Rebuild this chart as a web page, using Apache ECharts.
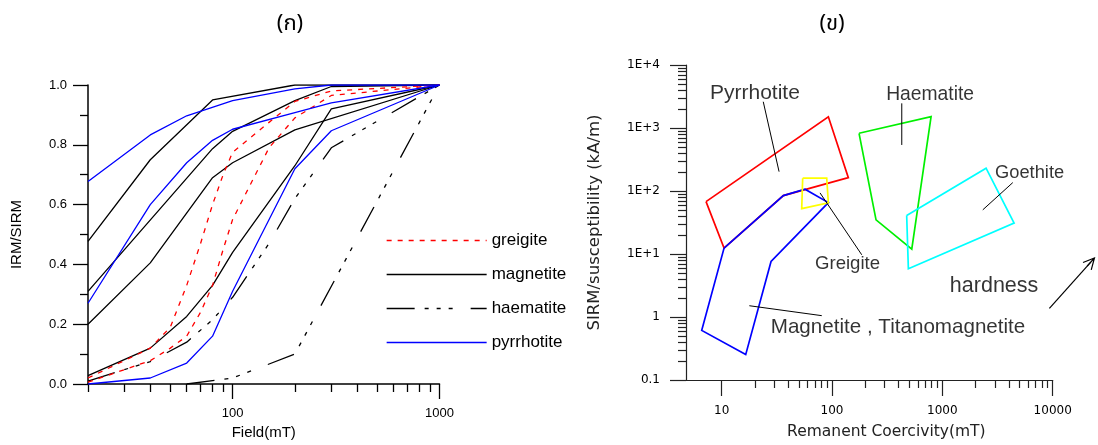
<!DOCTYPE html>
<html>
<head>
<meta charset="utf-8">
<script src="https://cdn.jsdelivr.net/npm/echarts@6/dist/echarts.min.js"></script>
<style>html,body{margin:0;padding:0;background:#fff}#c{width:1098px;height:445px}</style>
</head>
<body>
<div id="c"></div>
<script>
// ---------------- Panel (ก): IRM acquisition curves ----------------
const greigite1Field = [20, 40, 50, 60, 70, 80, 90, 100, 150, 200, 300, 1000];
const greigite1IRM   = [0.02, 0.12, 0.19, 0.33, 0.47, 0.60, 0.70, 0.775, 0.875, 0.945, 0.98, 1.0];
const greigite2Field = [20, 40, 50, 60, 70, 80, 90, 100, 150, 200, 300, 1000];
const greigite2IRM   = [0.006, 0.078, 0.12, 0.16, 0.24, 0.33, 0.45, 0.55, 0.79, 0.89, 0.965, 1.0];

const magnetite1Field = [20, 40, 80, 200, 1000];
const magnetite1IRM   = [0.477, 0.75, 0.95, 1.0, 1.0];
const magnetite2Field = [20, 80, 100, 200, 300, 1000];
const magnetite2IRM   = [0.31, 0.787, 0.845, 0.948, 0.995, 1.0];
const magnetite3Field = [20, 40, 80, 100, 200, 1000];
const magnetite3IRM   = [0.20, 0.405, 0.69, 0.74, 0.85, 1.0];
const magnetite4Field = [20, 40, 60, 80, 100, 200, 300, 1000];
const magnetite4IRM   = [0.028, 0.12, 0.226, 0.33, 0.44, 0.73, 0.92, 1.0];

const haematite1Field = [20, 40, 60, 80, 100, 150, 200, 300, 1000];
const haematite1IRM   = [0.01, 0.075, 0.14, 0.215, 0.29, 0.47, 0.62, 0.79, 1.0];
const haematite2Field = [60, 100, 200, 1000];
const haematite2IRM   = [0.0, 0.02, 0.10, 1.0];

const pyrrhotite1Field = [20, 40, 60, 100, 200, 300, 1000];
const pyrrhotite1IRM   = [0.677, 0.833, 0.897, 0.948, 0.987, 1.0, 1.0];
const pyrrhotite2Field = [20, 40, 60, 80, 100, 200, 300, 1000];
const pyrrhotite2IRM   = [0.27, 0.60, 0.74, 0.815, 0.852, 0.908, 0.94, 1.0];
const pyrrhotite3Field = [20, 40, 60, 80, 100, 200, 300, 1000];
const pyrrhotite3IRM   = [0.0, 0.02, 0.07, 0.16, 0.31, 0.72, 0.847, 1.0];

const legendNames = ['greigite', 'magnetite', 'haematite', 'pyrrhotite'];

const leftXMajor = [100, 1000];
const leftXMinor = [20, 30, 40, 50, 60, 70, 80, 90, 200, 300, 400, 500, 600, 700, 800, 900];

// ---------------- Panel (ข): SIRM/susceptibility vs remanent coercivity ----------------
const pyrrhotiteRegionX = [7.21, 92.6, 140.5, 36.2, 10.5, 7.21];
const pyrrhotiteRegionY = [67.9, 1510, 163, 84.5, 12.4, 67.9];
const magnetiteRegionX  = [10.5, 6.59, 16.5, 28.0, 92.6, 56.9, 36.2, 10.5];
const magnetiteRegionY  = [12.4, 0.613, 0.253, 7.6, 65.5, 106.8, 84.5, 12.4];
const greigiteRegionX   = [54.2, 89.5, 92.6, 53.1, 54.2];
const greigiteRegionY   = [159.6, 159.6, 64.8, 52.4, 159.6];
const haematiteRegionX  = [175.7, 790, 528, 250.5, 175.7];
const haematiteRegionY  = [824, 1510, 11.96, 34.8, 824];
const goethiteRegionX   = [474.8, 2489, 4467, 491.8, 474.8];
const goethiteRegionY   = [40.7, 229.8, 30.9, 5.83, 40.7];

// annotation texts anchored in data coordinates (coercivity, SIRM/chi)
const annotationTexts = ['Pyrrhotite', 'Haematite', 'Goethite', 'Greigite', 'Magnetite , Titanomagnetite', 'hardness'];
const annotationX     = [20.0, 774, 6173, 138.2, 396.3, 2942];
const annotationY     = [3548, 3334, 191.4, 6.99, 0.694, 3.05];

// leader lines (start, end) in data coordinates
const leaderStartX = [23.8, 428.6, 4347, 77.85, 17.8];
const leaderStartY = [2611, 2463, 135.9, 93.3, 1.51];
const leaderEndX   = [33.1, 428.6, 2324, 185.9, 80.7];
const leaderEndY   = [203, 538, 50.2, 9.71, 1.05];

const arrowX = [9333, 22144];
const arrowY = [1.389, 7.52];

const rightXMajor = [10, 100, 1000, 10000];
const rightXMinor = [20, 30, 40, 50, 60, 70, 80, 90, 200, 300, 400, 500, 600, 700, 800, 900,
                     2000, 3000, 4000, 5000, 6000, 7000, 8000, 9000];
const rightYMajor = [0.1, 1, 10, 100, 1000, 10000];
const rightYMinor = [0.2, 0.3, 0.4, 0.5, 0.6, 0.7, 0.8, 0.9, 2, 3, 4, 5, 6, 7, 8, 9,
                     20, 30, 40, 50, 60, 70, 80, 90, 200, 300, 400, 500, 600, 700, 800, 900,
                     2000, 3000, 4000, 5000, 6000, 7000, 8000, 9000];

// ---------------- styles / layout ----------------
const ARIAL = "'Liberation Sans', Arial, Helvetica, sans-serif";
const DEJAVU = "'DejaVu Sans', Verdana, sans-serif";
const THAI = "'Noto Sans Thai', 'Noto Sans', 'DejaVu Sans', sans-serif";
const annotationSizes = [21, 19.3, 18.3, 18.6, 20.6, 21.5];

const RIGHT_LEFT = 686, RIGHT_WIDTH = 366.7, RIGHT_XMIN = 4.746, RIGHT_XMAX = 10000;
// an invisible, wider copy of the right x scale (same px per decade) so the
// "hardness" arrow, which pokes out past the axis end, is not clipped
const EXT_WIDTH = 1098 - RIGHT_LEFT;
const pxPerDecade = RIGHT_WIDTH / Math.log10(RIGHT_XMAX / RIGHT_XMIN);
const EXT_XMAX = RIGHT_XMIN * Math.pow(10, EXT_WIDTH / pxPerDecade);

const zip = (xs, ys) => xs.map((x, i) => [x, ys[i]]);

const leftCurve = (name, xs, ys, color, dash) => ({
  name, type: 'line', xAxisIndex: 0, yAxisIndex: 0,
  data: zip(xs, ys), symbol: 'none', silent: true, animation: false,
  itemStyle: { color },
  lineStyle: { color, width: 1.3, type: dash }
});
const RED_DASH = [5, 6];
const HAEM_DASH = [28, 10, 4, 8, 4, 8, 4, 18];

const region = (name, xs, ys, color) => ({
  name, type: 'line', xAxisIndex: 2, yAxisIndex: 1,
  data: zip(xs, ys), symbol: 'none', silent: true, animation: false, clip: false,
  itemStyle: { color },
  lineStyle: { color, width: 1.7, join: 'miter' }
});

const series = [
  leftCurve('magnetite', magnetite1Field, magnetite1IRM, '#000', 'solid'),
  leftCurve('magnetite', magnetite2Field, magnetite2IRM, '#000', 'solid'),
  leftCurve('magnetite', magnetite3Field, magnetite3IRM, '#000', 'solid'),
  leftCurve('magnetite', magnetite4Field, magnetite4IRM, '#000', 'solid'),
  leftCurve('haematite', haematite1Field, haematite1IRM, '#000', HAEM_DASH),
  leftCurve('haematite', haematite2Field, haematite2IRM, '#000', HAEM_DASH),
  leftCurve('greigite', greigite1Field, greigite1IRM, '#ff0000', RED_DASH),
  leftCurve('greigite', greigite2Field, greigite2IRM, '#ff0000', RED_DASH),
  leftCurve('pyrrhotite', pyrrhotite1Field, pyrrhotite1IRM, '#0000ff', 'solid'),
  leftCurve('pyrrhotite', pyrrhotite2Field, pyrrhotite2IRM, '#0000ff', 'solid'),
  leftCurve('pyrrhotite', pyrrhotite3Field, pyrrhotite3IRM, '#0000ff', 'solid'),

  region('Pyrrhotite region', pyrrhotiteRegionX, pyrrhotiteRegionY, '#ff0000'),
  region('Haematite region', haematiteRegionX, haematiteRegionY, '#00f000'),
  region('Goethite region', goethiteRegionX, goethiteRegionY, '#00ffff'),
  region('Magnetite region', magnetiteRegionX, magnetiteRegionY, '#0000ff'),
  region('Greigite region', greigiteRegionX, greigiteRegionY, '#ffff00')
];

leaderStartX.forEach((x, i) => {
  series.push({
    name: 'leader' + i, type: 'line', xAxisIndex: 2, yAxisIndex: 1,
    data: [[x, leaderStartY[i]], [leaderEndX[i], leaderEndY[i]]],
    symbol: 'none', silent: true, animation: false, clip: false,
    itemStyle: { color: '#000' },
    lineStyle: { color: '#000', width: 1 }
  });
});

series.push({
  name: 'hardness arrow', type: 'line', xAxisIndex: 4, yAxisIndex: 3,
  data: [
    { value: [arrowX[0], arrowY[0]], symbol: 'none' },
    { value: [arrowX[1], arrowY[1]], symbol: 'path://M0,10 L5,0 L10,10 M5,0 L5,10',
      symbolSize: 11, symbolRotate: -41.8,
      itemStyle: { color: 'rgba(0,0,0,0)', borderColor: '#000', borderWidth: 1.2 } }
  ],
  showSymbol: true, symbol: 'none', silent: true, animation: false, clip: false,
  itemStyle: { color: '#000' },
  lineStyle: { color: '#000', width: 1.2 }
});

series.push({
  name: 'annotations', type: 'scatter', xAxisIndex: 2, yAxisIndex: 1,
  symbolSize: 1, silent: true, animation: false, clip: false,
  itemStyle: { color: 'rgba(0,0,0,0)' },
  data: annotationTexts.map((t, i) => ({
    value: [annotationX[i], annotationY[i]],
    label: { show: true, position: 'inside', formatter: t, color: '#000',
             fontFamily: ARIAL, fontSize: annotationSizes[i] }
  }))
});

const rightYFormat = v => {
  const e = Math.round(Math.log10(v));
  if (e >= 1) return '1E+' + e;
  if (e === 0) return '1';
  return '0.1';
};

const option = {
  backgroundColor: '#fff',
  animation: false,
  grid: [
    { left: 88, top: 85, width: 351.5, height: 301 },
    { left: RIGHT_LEFT, top: 65, width: RIGHT_WIDTH, height: 315.5 },
    { left: RIGHT_LEFT, top: 65, width: EXT_WIDTH, height: 315.5 }
  ],
  legend: {
    data: legendNames, orient: 'vertical', left: 381, top: 227, padding: 5,
    itemWidth: 100, itemHeight: 20, itemGap: 17, selectedMode: false,
    textStyle: { fontFamily: ARIAL, fontSize: 17, color: '#000' },
    itemStyle: { opacity: 0 },
    lineStyle: { width: 1.3 }
  },
  graphic: [
    { type: 'text', x: 290, y: 26, style: { text: '(ก)', fontSize: 22, fontFamily: THAI, fill: '#000', align: 'center', verticalAlign: 'middle', textAlign: 'center', textVerticalAlign: 'middle' } },
    { type: 'text', x: 832, y: 26, style: { text: '(ข)', fontSize: 22, fontFamily: THAI, fill: '#000', align: 'center', verticalAlign: 'middle', textAlign: 'center', textVerticalAlign: 'middle' } }
  ],
  xAxis: [
    { gridIndex: 0, type: 'log', min: 20, max: 1000,
      axisLine: { show: true, lineStyle: { color: '#000', width: 1.5 } },
      axisTick: { show: true, customValues: leftXMajor, length: 15, lineStyle: { color: '#000', width: 1.3 } },
      axisLabel: { customValues: leftXMajor, margin: 23, fontFamily: ARIAL, fontSize: 13, color: '#000', formatter: v => String(Math.round(v)) },
      splitLine: { show: false }, minorTick: { show: false },
      name: 'Field(mT)', nameLocation: 'middle', nameGap: 41,
      nameTextStyle: { fontFamily: ARIAL, fontSize: 15, color: '#000' } },
    { gridIndex: 0, type: 'log', min: 20, max: 1000, position: 'bottom',
      axisLine: { show: false },
      axisTick: { show: true, customValues: leftXMinor, length: 8, lineStyle: { color: '#000', width: 1.3 } },
      axisLabel: { show: false }, splitLine: { show: false } },
    { gridIndex: 1, type: 'log', min: RIGHT_XMIN, max: RIGHT_XMAX,
      axisLine: { show: true, lineStyle: { color: '#222', width: 1.2 } },
      axisTick: { show: true, customValues: rightXMajor, length: 16, lineStyle: { color: '#222', width: 1.2 } },
      axisLabel: { customValues: rightXMajor, margin: 25, fontFamily: DEJAVU, fontSize: 12, color: '#000', formatter: v => String(Math.round(v)) },
      splitLine: { show: false },
      name: 'Remanent Coercivity(mT)', nameLocation: 'middle', nameGap: 44,
      nameTextStyle: { fontFamily: DEJAVU, fontSize: 15.5, color: '#222', padding: [0, 0, 0, 34] } },
    { gridIndex: 1, type: 'log', min: RIGHT_XMIN, max: RIGHT_XMAX, position: 'bottom',
      axisLine: { show: false },
      axisTick: { show: true, customValues: rightXMinor, length: 8, lineStyle: { color: '#222', width: 1.2 } },
      axisLabel: { show: false }, splitLine: { show: false } },
    { gridIndex: 2, type: 'log', min: RIGHT_XMIN, max: EXT_XMAX, show: false }
  ],
  yAxis: [
    { gridIndex: 0, type: 'value', min: 0, max: 1, interval: 0.2,
      axisLine: { show: true, lineStyle: { color: '#000', width: 1.5 } },
      axisTick: { show: true, length: 15, lineStyle: { color: '#000', width: 1.3 } },
      minorTick: { show: true, splitNumber: 2, length: 8, lineStyle: { color: '#000', width: 1.3 } },
      axisLabel: { margin: 21, fontFamily: ARIAL, fontSize: 13, color: '#000', formatter: v => v.toFixed(1) },
      splitLine: { show: false },
      name: 'IRM/SIRM', nameLocation: 'middle', nameGap: 64, nameRotate: 90,
      nameTextStyle: { fontFamily: ARIAL, fontSize: 15, color: '#000' } },
    { gridIndex: 1, type: 'log', min: 0.1, max: 10000,
      axisLine: { show: true, lineStyle: { color: '#222', width: 1.2 } },
      axisTick: { show: true, customValues: rightYMajor, length: 16, lineStyle: { color: '#222', width: 1.2 } },
      axisLabel: { customValues: rightYMajor, margin: 26, fontFamily: DEJAVU, fontSize: 12, color: '#000', formatter: rightYFormat },
      splitLine: { show: false },
      name: 'SIRM/susceptibility (kA/m)', nameLocation: 'middle', nameGap: 83, nameRotate: 90,
      nameTextStyle: { fontFamily: DEJAVU, fontSize: 16.5, color: '#222' } },
    { gridIndex: 1, type: 'log', min: 0.1, max: 10000, position: 'left',
      axisLine: { show: false },
      axisTick: { show: true, customValues: rightYMinor, length: 8, lineStyle: { color: '#222', width: 1.2 } },
      axisLabel: { show: false }, splitLine: { show: false } },
    { gridIndex: 2, type: 'log', min: 0.1, max: 10000, show: false }
  ],
  series
};

const chart = echarts.init(document.getElementById('c'));
chart.setOption(option);
</script>
</body>
</html>
